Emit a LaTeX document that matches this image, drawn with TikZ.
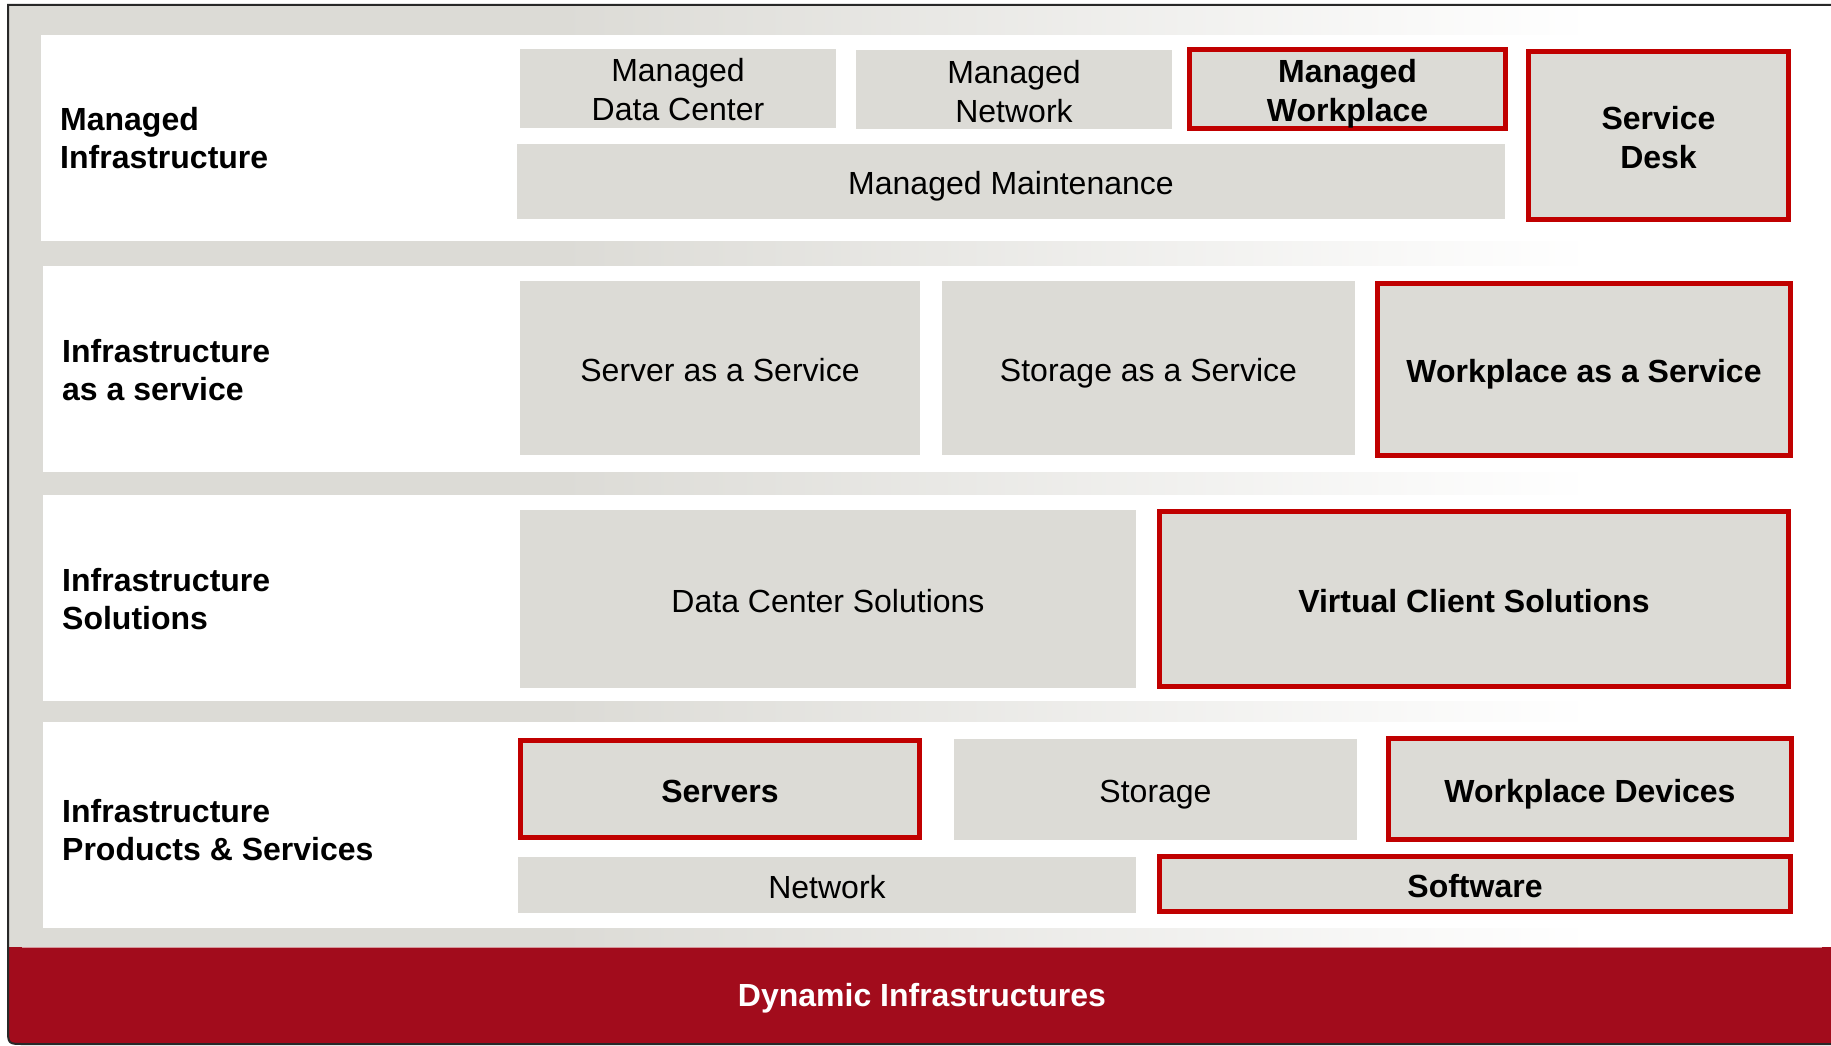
\documentclass[tikz,border=0pt]{standalone}
\usepackage{fontspec}
\setmainfont{Liberation Sans}
\definecolor{boxgray}{RGB}{220,219,214}
\definecolor{bggray}{RGB}{220,219,214}
\definecolor{redc}{RGB}{192,0,0}
\definecolor{bandred}{RGB}{162,12,28}
\definecolor{framec}{RGB}{40,40,40}
\definecolor{bandline}{RGB}{214,150,156}
\pgfdeclarehorizontalshading{bgshade}{100bp}{color(0bp)=(bggray); color(25bp)=(bggray); color(40bp)=(bggray); color(68bp)=(white); color(100bp)=(white)}
\newcommand\fsz{\fontsize{32}{38}\selectfont}
\newcommand\fszb{\fontsize{32}{39}\selectfont}
\newcommand\twolines[2]{\rule{0pt}{33pt}#1\\#2\rule[-7pt]{0pt}{7pt}}
\tikzset{
  box/.style={fill=boxgray, inner sep=0pt, align=center, font=\fszb},
  redbox/.style={box, draw=redc, line width=5pt},
  bbox/.style={redbox, font=\fszb\bfseries},
  one/.style={text height=26pt, text depth=0pt},
  lbl/.style={anchor=west, align=left, inner sep=0pt, font=\fsz\bfseries},
}
\begin{document}
\begin{tikzpicture}[x=1pt,y=-1pt]
\useasboundingbox (0,0) rectangle (1831,1046);
\begin{scope}
\clip (0,0) rectangle (1831,1046);
% background gradient
\fill[shading=bgshade] (8,5) rectangle (1850,947);
% white row panels
\fill[white] (41,35) rectangle (1850,241);
\fill[white] (43,266) rectangle (1850,472);
\fill[white] (43,495) rectangle (1850,701);
\fill[white] (43,722) rectangle (1850,928);
% red band
\fill[bandred] (8,947) -- (1850,947) -- (1850,1044) -- (24,1044) .. controls (8,1044) .. (8,1028) -- cycle;
\draw[bandline, line width=1.2pt] (22,947.5) -- (1822,947.5);
% frame
\draw[framec, line width=2pt, line cap=square] (1850,5) -- (8,5) -- (8,1028) .. controls (8,1044) .. (24,1044) -- (1850,1044);
\end{scope}

% row labels
\node[lbl] (l1) at (60,138) {Managed\\Infrastructure};
\node[lbl] (l2) at (62,370) {Infrastructure\\as a service};
\node[lbl] (l3) at (62,599) {Infrastructure\\Solutions};
\node[lbl] (l4) at (62,830) {Infrastructure\\Products \& Services};

% row 1
\node[box, minimum width=316pt, minimum height=75pt] (mdc) at (678,88.5) {\twolines{Managed}{Data Center}};
\node[box, minimum width=316pt, minimum height=74pt] (mn) at (1014,90) {\twolines{Managed}{Network}};
\node[bbox, minimum width=316pt, minimum height=75pt] (mw) at (1347.5,89) {\twolines{Managed}{Workplace}};
\node[bbox, minimum width=260pt, minimum height=168pt] (sd) at (1658.5,135.5) {\twolines{Service}{Desk}};
\node[box, one, minimum width=988pt, minimum height=75pt] (mm) at (1011,181.5) {Managed Maintenance};

% row 2
\node[box, one, minimum width=400pt, minimum height=174pt] (sas) at (720,368) {Server as a Service};
\node[box, one, minimum width=413pt, minimum height=174pt] (stas) at (1148.5,368) {Storage as a Service};
\node[bbox, one, minimum width=413pt, minimum height=172pt] (waas) at (1584,369.5) {Workplace as a Service};

% row 3
\node[box, one, minimum width=616pt, minimum height=178pt] (dcs) at (828,599) {Data Center Solutions};
\node[bbox, one, minimum width=629pt, minimum height=175pt] (vcs) at (1474,599) {Virtual Client Solutions};

% row 4
\node[bbox, one, minimum width=399pt, minimum height=97pt] (srv) at (720,789) {Servers};
\node[box, one, minimum width=403pt, minimum height=101pt] (sto) at (1155.5,789.5) {Storage};
\node[bbox, one, minimum width=403pt, minimum height=101pt] (wd) at (1590,789) {Workplace Devices};
\node[box, one, minimum width=618pt, minimum height=56pt] (net) at (827,885) {Network};
\node[bbox, one, minimum width=631pt, minimum height=55pt] (sw) at (1475,884) {Software};

% band label
\node[font=\fsz\bfseries, text=white, inner sep=0pt, text height=22pt, text depth=0pt] (dyn) at (922,995) {Dynamic Infrastructures};
\end{tikzpicture}
\end{document}
